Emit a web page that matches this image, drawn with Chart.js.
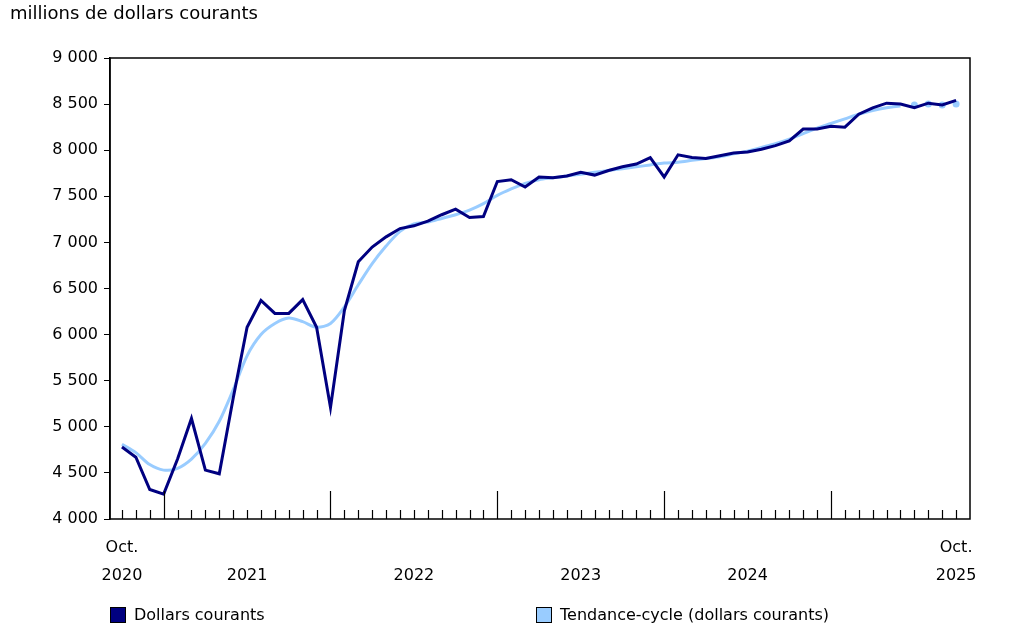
<!DOCTYPE html>
<html><head><meta charset="utf-8">
<script src="https://cdn.jsdelivr.net/npm/chart.js@4"></script>
<style>html,body{margin:0;padding:0;background:#fff}</style>
</head><body><canvas id="c" width="1011" height="637"></canvas>
<script>
const dollars = [4780,4670,4320,4270,4650,5090,4530,4490,5310,6080,6370,6230,6230,6380,6080,5210,6260,6790,6950,7060,7150,7180,7230,7300,7360,7270,7280,7660,7680,7600,7710,7700,7720,7760,7730,7780,7820,7850,7920,7710,7950,7920,7910,7940,7970,7980,8010,8050,8100,8230,8230,8260,8250,8390,8460,8510,8500,8460,8510,8490,8540];
const trend = [4810,4720,4590,4530,4550,4650,4820,5060,5400,5770,6000,6120,6180,6140,6080,6120,6300,6540,6770,6960,7120,7200,7220,7260,7300,7350,7420,7510,7580,7640,7680,7700,7720,7740,7760,7780,7800,7820,7840,7860,7870,7890,7910,7930,7960,7990,8030,8070,8120,8180,8240,8290,8340,8390,8430,8460,8480,8490,8500,8490,8500];
const provisionalFrom = 57;
const yearLabels = [{i:0,t:['Oct.','2020']},{i:9,t:['','2021']},{i:21,t:['','2022']},{i:33,t:['','2023']},{i:45,t:['','2024']},{i:60,t:['Oct.','2025']}];
const majorTicks = [3,15,27,39,51];
const yTicks = [4000,4500,5000,5500,6000,6500,7000,7500,8000,8500,9000];
const fmt = v => String(v).replace(/\B(?=(\d{3})+(?!\d))/g,' ');
const FONT = '16px "DejaVu Sans", Verdana, sans-serif';

const deco = {
  id:'deco',
  afterDraw(ch){
    const {ctx, chartArea:a, scales:{x,y}} = ch;
    ctx.save();
    ctx.strokeStyle='#000'; ctx.lineWidth=1.5;
    ctx.strokeRect(a.left,a.top,a.right-a.left,a.bottom-a.top);
    ctx.lineWidth=1.2;
    for(let i=0;i<dollars.length;i++){
      const px=Math.round(x.getPixelForValue(i))+0.5;
      const major=majorTicks.includes(i);
      ctx.beginPath(); ctx.moveTo(px,a.bottom); ctx.lineTo(px,a.bottom-(major?28:9)); ctx.stroke();
    }
    ctx.fillStyle='#000'; ctx.font=FONT; ctx.textAlign='center'; ctx.textBaseline='middle';
    yearLabels.forEach(l=>{const px=x.getPixelForValue(l.i);
      if(l.t[0]) ctx.fillText(l.t[0],px,548);
      ctx.fillText(l.t[1],px,576);});
    ctx.textAlign='left';
    ctx.font='18px "DejaVu Sans", Verdana, sans-serif';
    ctx.fillText('millions de dollars courants',10,14);
    ctx.font=FONT;
    [[110,'#000080','Dollars courants'],[536,'#99ccff','Tendance-cycle (dollars courants)']].forEach(([lx,c,t])=>{
      ctx.fillStyle=c; ctx.fillRect(lx,607,16,16);
      ctx.strokeStyle='#000'; ctx.lineWidth=1; ctx.strokeRect(lx+0.5,607.5,15,15);
      ctx.fillStyle='#000'; ctx.fillText(t,lx+24,616);
    });
    ctx.restore();
  }
};

new Chart(document.getElementById('c'),{
  type:'line',
  data:{labels:dollars.map((_,i)=>i),datasets:[
    {data:trend.map((v,i)=>({x:i,y:v})),borderColor:'#99ccff',backgroundColor:'#99ccff',borderWidth:3,tension:0.3,
      pointRadius:trend.map((_,i)=>i>=provisionalFrom?3.5:0),pointBorderWidth:0,
      segment:{borderColor:c=>c.p0DataIndex>=provisionalFrom-1?'rgba(0,0,0,0)':'#99ccff'},order:2},
    {data:dollars.map((v,i)=>({x:i,y:v})),borderColor:'#000080',borderWidth:3,tension:0,pointRadius:0,order:1}
  ]},
  options:{responsive:false,animation:false,devicePixelRatio:1,
    layout:{padding:{top:58,bottom:118,right:41,left:0}},
    plugins:{legend:{display:false},tooltip:{enabled:false}},
    scales:{
      x:{type:'linear',min:-0.86,max:61,display:false},
      y:{min:4000,max:9000,afterFit:s=>{s.width=110;},
        afterBuildTicks:s=>{s.ticks=yTicks.map(v=>({value:v}));},
        border:{color:'#000',width:1.5},
        grid:{drawOnChartArea:false,tickLength:6,color:'#000'},
        ticks:{color:'#000',font:{family:'"DejaVu Sans", Verdana, sans-serif',size:16},padding:6,callback:v=>fmt(v)}}
    }},
  plugins:[deco]
});
</script></body></html>
